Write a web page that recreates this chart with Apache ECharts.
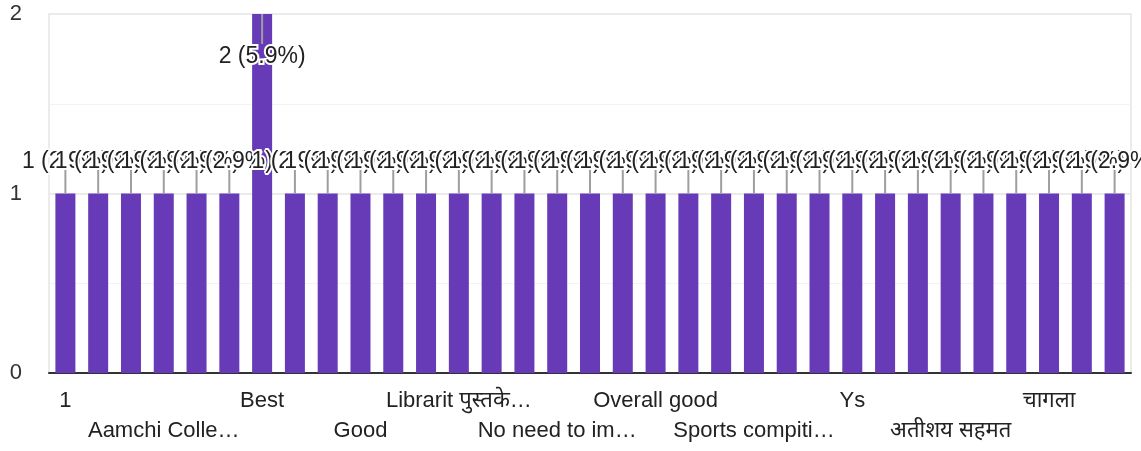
<!DOCTYPE html>
<html>
<head>
<meta charset="utf-8">
<script src="https://cdn.jsdelivr.net/npm/echarts@6/dist/echarts.min.js"></script>
<style>
html,body{margin:0;padding:0;background:#fff;}
#chart{width:1141px;height:451px;}
</style>
</head>
<body>
<div id="chart"></div>
<script>
// Categories (only every third one is printed on the axis in the reference)
const categories = [
  "1", "Aacha", "Aamchi", "Aamchi Colle…", "All good", "Beautiful",
  "Best", "Excellent", "Fine", "Good", "Good college", "Isha",
  "Librarit पुस्तके…", "Nice", "No", "No need to im…", "Ok", "Overall",
  "Overall good", "Sports", "Sports comp…", "Sports compiti…", "Very good", "Yes",
  "Ys", "अच्छा", "अतिशय", "अतीशय सहमत", "उत्तम", "खूप छान",
  "चागला", "छान", "सहमत"
];
const counts = [
  1, 1, 1, 1, 1, 1,
  2, 1, 1, 1, 1, 1,
  1, 1, 1, 1, 1, 1,
  1, 1, 1, 1, 1, 1,
  1, 1, 1, 1, 1, 1,
  1, 1, 1
];
const yTicks = [0, 1, 2];

const total = counts.reduce((a, b) => a + b, 0);
const maxCount = Math.max(...counts);
const FONT = '"Liberation Sans", Arial, "Noto Sans", sans-serif';

const chart = echarts.init(document.getElementById('chart'), null, {renderer: 'canvas'});
chart.setOption({
  animation: false,
  backgroundColor: '#fff',
  grid: {left: 49, right: 10, top: 14, bottom: 78, show: true, borderColor: '#ebebeb', borderWidth: 2},
  xAxis: {
    type: 'category',
    data: categories,
    axisLine: {lineStyle: {color: '#333', width: 2}},
    axisTick: {show: false},
    axisLabel: {
      interval: 2,
      fontSize: 22,
      fontFamily: FONT,
      color: '#222',
      margin: 13,
      lineHeight: 30,
      formatter: (val, idx) => ((idx / 3) % 2 === 1 ? '\n' + val : val)
    }
  },
  yAxis: {
    type: 'value',
    min: yTicks[0],
    max: yTicks[yTicks.length - 1],
    interval: 1,
    axisLine: {show: false},
    axisTick: {show: false},
    axisLabel: {fontSize: 22, fontFamily: FONT, color: '#333', margin: 27},
    splitLine: {lineStyle: {color: '#ebebeb', width: 2}},
    minorTick: {show: false, splitNumber: 2},
    minorSplitLine: {show: true, lineStyle: {color: '#f3f3f3', width: 1}}
  },
  series: [
    {
      type: 'bar',
      data: counts,
      barWidth: 20,
      itemStyle: {color: '#673ab7'},
      z: 2
    },
    {
      type: 'custom',
      z: 5,
      data: counts.map((v, i) => [i, v]),
      renderItem: (params, api) => {
        const i = api.value(0), v = api.value(1);
        const top = api.coord([i, v]);
        const inside = v === maxCount;
        const stemEnd = inside ? top[1] + 30 : top[1] - 24;
        const textY = inside ? top[1] + 43 : top[1] - 32;
        const pct = (v / total * 100).toFixed(1);
        return {
          type: 'group',
          children: [
            {type: 'line', shape: {x1: top[0], y1: top[1], x2: top[0], y2: stemEnd},
             style: {stroke: '#9e9e9e', lineWidth: 2}},
            {type: 'text', x: top[0], y: textY,
             style: {text: v + ' (' + pct + '%)', align: 'center', verticalAlign: 'middle',
                     font: '23px ' + FONT, fill: '#222', stroke: '#fff', lineWidth: 4}}
          ]
        };
      }
    }
  ]
});
</script>
</body>
</html>
